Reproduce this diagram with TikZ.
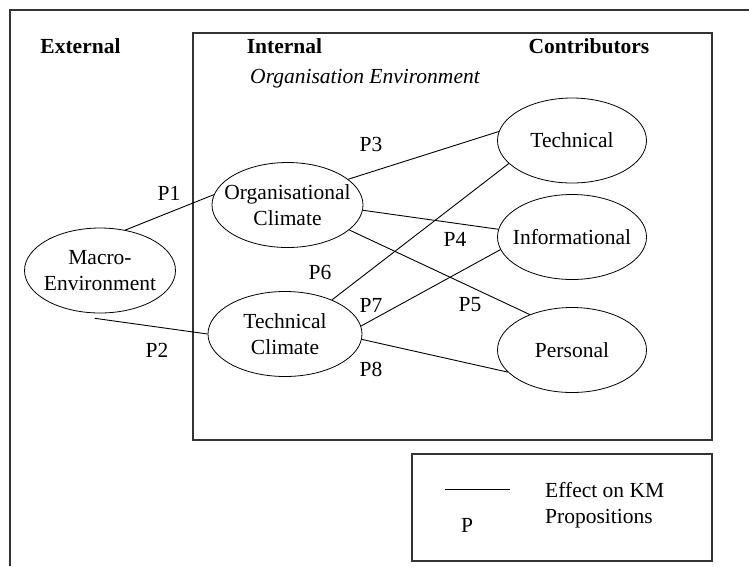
\documentclass[tikz,border=0pt]{standalone}
\usepackage{fontspec}
\setmainfont{Liberation Serif}
\usetikzlibrary{shapes.geometric}

\begin{document}
\begin{tikzpicture}[x=1pt, y=-1pt, font=\fontsize{21.5}{25.5}\selectfont,
  every node/.style={inner sep=0pt},
  factor/.style={draw, ellipse, line width=0.8pt, inner xsep=-20pt, minimum width=151pt, minimum height=85pt, align=center},
  head/.style={font=\fontsize{21.5}{25.5}\selectfont\bfseries},
  link/.style={line width=0.9pt},
  frame/.style={line width=1.4pt, draw=black!80}]
  \useasboundingbox (0,0) rectangle (749,566);

  % Boxes
  \draw[frame] (10,566) -- (10,10) -- (749,10);
  \draw[frame] (193,33) rectangle (712,440);
  \draw[frame] (412,454) rectangle (712,561);

  % Headings
  \node[head] (External) at (80.5,46) {External};
  \node[head] (Internal) at (284.5,46) {Internal};
  \node[head] (Contributors) at (589,46) {Contributors};
  \node (OrgEnv) at (365,79) {\itshape Organisation Environment};

  % Climates and contributors
  \node[factor] (Macro) at (100,270.5) {Macro-\\Environment};
  \node[factor] (OrgClimate) at (287.5,205) {Organisational\\Climate};
  \node[factor, minimum width=154pt] (TechClimate) at (285,334) {Technical\\Climate};
  \node[factor, minimum width=149pt] (Technical) at (572,140.5) {Technical};
  \node[factor, minimum width=149pt] (Informational) at (572,237) {Informational};
  \node[factor, minimum width=149pt] (Personal) at (572,350) {Personal};

  % Propositions
  \draw[link] (Macro.58) -- (OrgClimate.172);
  \draw[link] ([yshift=-5pt]Macro.263) -- (TechClimate.west);
  \draw[link] (OrgClimate.23) -- (Technical.173);
  \draw[link] (OrgClimate.-4) -- (Informational.174);
  \draw[link] (OrgClimate.-22) -- (Personal.140);
  \draw[link] (TechClimate.36) -- (Technical.200);
  \draw[link] (TechClimate.6) -- (Informational.190);
  \draw[link] (TechClimate.-4) -- (Personal.199);

  \node (P1) at (169,193) {P1};
  \node (P2) at (157,350) {P2};
  \node (P3) at (371,144) {P3};
  \node (P4) at (455,239) {P4};
  \node (P5) at (470,305) {P5};
  \node (P6) at (320,272) {P6};
  \node (P7) at (371,305) {P7};
  \node (P8) at (371,369) {P8};

  % Legend
  \coordinate (KeyStart) at (445,489);
  \coordinate (KeyEnd) at (510,489);
  \draw[link] (KeyStart) -- (KeyEnd);
  \node (KeyP) at (467,525) {P};
  \node[anchor=west, align=left] (KeyText) at (545,505) {Effect on KM\\Propositions};
\end{tikzpicture}
\end{document}
